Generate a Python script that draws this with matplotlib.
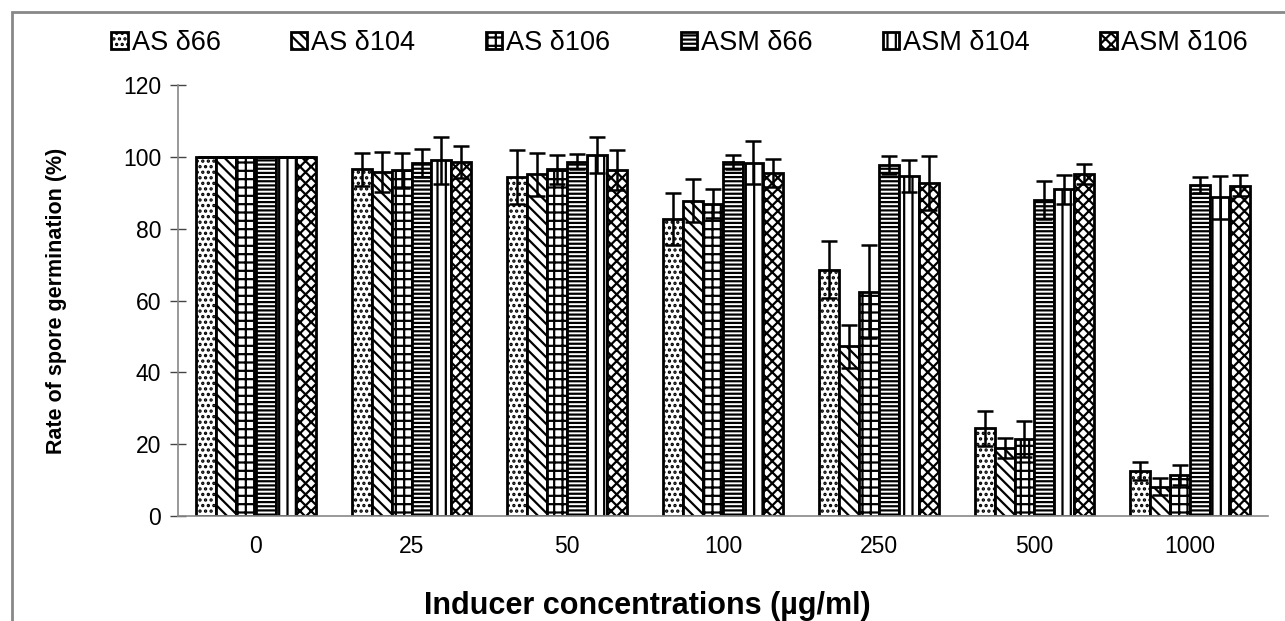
import matplotlib
matplotlib.use("Agg")
import matplotlib.pyplot as plt
import numpy as np
from matplotlib.patches import Rectangle

plt.rcParams['font.family'] = ['Liberation Sans', 'DejaVu Sans']
plt.rcParams['hatch.linewidth'] = 1.6

concentrations = ['0', '25', '50', '100', '250', '500', '1000']
series_names = ['AS δ66', 'AS δ104', 'AS δ106', 'ASM δ66', 'ASM δ104', 'ASM δ106']

as66 = [100, 96.5, 94.5, 82.7, 68.6, 24.4, 12.4]
as104 = [100, 95.8, 95.2, 87.8, 47.3, 19.0, 8.2]
as106 = [100, 96.2, 96.5, 87.0, 62.5, 21.5, 11.3]
asm66 = [100, 98.3, 98.7, 98.6, 97.8, 88.0, 92.2]
asm104 = [100, 99.0, 100.5, 98.3, 94.7, 91.0, 88.8]
asm106 = [100, 98.5, 96.4, 95.5, 92.8, 95.2, 92.0]

as66_err = [0, 4.5, 7.5, 7.3, 8.0, 4.8, 2.5]
as104_err = [0, 5.5, 6.0, 6.0, 6.0, 2.8, 2.3]
as106_err = [0, 5.0, 4.0, 4.0, 13.0, 5.0, 2.8]
asm66_err = [0, 4.0, 2.0, 2.0, 2.5, 5.3, 2.3]
asm104_err = [0, 6.5, 5.0, 6.0, 4.5, 4.0, 6.0]
asm106_err = [0, 4.5, 5.5, 4.0, 7.5, 2.7, 3.0]

values = [as66, as104, as106, asm66, asm104, asm106]
errors = [as66_err, as104_err, as106_err, asm66_err, asm104_err, asm106_err]
hatches = ['...', '\\\\\\', '++', '----', '||', 'xxx']

fig = plt.figure(figsize=(12.85, 6.21), dpi=100)
ax = fig.add_axes([0.1385, 0.1691, 0.8483, 0.694])

x = np.arange(len(concentrations))
width = 0.128
for i in range(6):
    pos = x + (i - 2.5) * width
    ax.bar(pos, values[i], width, color='white', edgecolor='black',
           linewidth=2, hatch=hatches[i], label=series_names[i], zorder=2)
    ax.errorbar(pos, values[i], yerr=errors[i], fmt='none', ecolor='black',
                elinewidth=1.8, capsize=6, capthick=1.8, zorder=3)

ax.set_xlim(-0.5, 6.5)
ax.set_ylim(0, 120)
ax.set_yticks(range(0, 121, 20))
ax.set_xticks(x)
ax.set_xticklabels(concentrations)
ax.tick_params(axis='y', direction='inout', length=12, width=1, color='#444444',
               labelsize=16.5, pad=6)
ax.tick_params(axis='x', length=0, labelsize=16.5, pad=14)
for s in ['top', 'right']:
    ax.spines[s].set_visible(False)
for s in ['left', 'bottom']:
    ax.spines[s].set_color('#888888')
    ax.spines[s].set_linewidth(1.2)

ax.set_ylabel('Rate of spore germination (%)', fontsize=15.5, fontweight='bold')
ax.yaxis.set_label_coords(-0.102, 0.5)
ax.set_xlabel('Inducer concentrations (µg/ml)', fontsize=22, fontweight='bold')
ax.xaxis.set_label_coords(0.431, -0.208)
ax.xaxis.label.set_va('center')

ax.legend(loc='center', bbox_to_anchor=(0.46, 1.097), ncol=6, frameon=False,
          fontsize=19.5, handlelength=0.6, handleheight=0.6, handletextpad=0.15,
          columnspacing=2.6, borderaxespad=0)

fig.patches.append(Rectangle((12 / 1285, -0.1), 1.2, 1.1 - 12 / 621,
                             transform=fig.transFigure, fill=False,
                             edgecolor='#888888', linewidth=2))

fig.savefig('out.png', dpi=100)
